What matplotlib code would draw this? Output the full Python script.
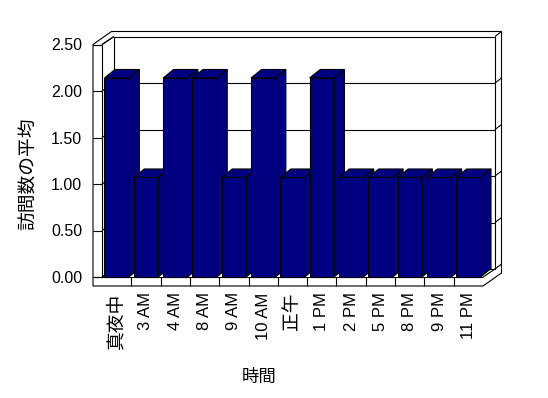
import matplotlib
matplotlib.use("Agg")
import matplotlib.pyplot as plt
from matplotlib.patches import Polygon

# data
hours = ["真夜中", "3 AM", "4 AM", "8 AM", "9 AM", "10 AM", "正午",
         "1 PM", "2 PM", "5 PM", "8 PM", "9 PM", "11 PM"]
avg_visits = [2.14, 1.07, 2.14, 2.14, 1.07, 2.14, 1.07,
              2.14, 1.07, 1.07, 1.07, 1.07, 1.07]
y_ticks = [0.0, 0.5, 1.0, 1.5, 2.0, 2.5]
y_tick_labels = ["0.00", "0.50", "1.00", "1.50", "2.00", "2.50"]

plt.rcParams["font.family"] = ["Liberation Sans", "Noto Sans CJK JP"]

W, H = 548, 398
fig = plt.figure(figsize=(W / 100, H / 100), dpi=100)
ax = fig.add_axes([102 / W, 1 - 277 / H, 381 / W, 232.5 / H])
ax.set_xlim(-0.5, len(hours) - 0.5)
ax.set_ylim(0, 2.5)
for s in ax.spines.values():
    s.set_visible(False)
ax.patch.set_visible(False)

# pseudo-3D offsets in pixels (right, up)
DEPTH = (12, 8)        # front plane -> back wall
THICK = (6.5, 5)       # back wall thickness
WALL = 9               # left wall width / floor height
BAR_DEPTH = (10.5, 8.5)
BAR_W = 0.83
NAVY = "#000080"
LW = 0.8


def shift(x, y, dx=0, dy=0):
    px = ax.transData.transform((x, y))
    return tuple(ax.transData.inverted().transform((px[0] + dx, px[1] + dy)))


def poly(pts, fc, z):
    ax.add_patch(Polygon(pts, closed=True, facecolor=fc, edgecolor="black",
                         lw=LW, zorder=z, clip_on=False, joinstyle="miter"))


def seg(p, q, z=2):
    ax.plot([p[0], q[0]], [p[1], q[1]], color="black", lw=LW, zorder=z,
            clip_on=False, solid_capstyle="butt")


x0, x1 = ax.get_xlim()
y0, y1 = ax.get_ylim()
DX, DY = DEPTH[0] + THICK[0], DEPTH[1] + THICK[1]

# outer box (walls + floor)
poly([shift(x0, y1, -WALL, 0), shift(x0, y0, -WALL, -WALL),
      shift(x1, y0, 0, -WALL), shift(x1, y0, DX, DY - WALL),
      shift(x1, y1, DX, DY), shift(x0, y1, DX - WALL, DY)], "white", 1)

# left wall front face and floor front face
seg(shift(x0, y1, -WALL, 0), (x0, y1))
seg((x0, y1), (x0, y0))
seg(shift(x0, y0, -WALL, 0), (x1, y0))
for k in range(1, len(hours)):
    seg((k - 0.5, y0), shift(k - 0.5, y0, 0, -WALL))

# back wall face
back = [shift(x0, y0, *DEPTH), shift(x1, y0, *DEPTH),
        shift(x1, y1, *DEPTH), shift(x0, y1, *DEPTH)]
poly(back, "none", 2)
seg((x0, y1), shift(x0, y1, *DEPTH))
seg((x0, y0), shift(x0, y0, *DEPTH))
seg((x1, y0), shift(x1, y0, *DEPTH))
seg(shift(x1, y1, *DEPTH), shift(x1, y1, DX, DY))

# gridlines and ticks
for yv in y_ticks:
    seg(shift(x0, yv, -WALL, 0), (x0, yv))
    seg((x0, yv), shift(x0, yv, *DEPTH))
    if yv < y1:
        seg(shift(x1, yv, *DEPTH), shift(x1, yv, DX, DY))
    if y0 < yv < y1:
        seg(shift(x0, yv, *DEPTH), shift(x1, yv, *DEPTH))

# bars
for i, v in enumerate(avg_visits):
    l, r = i - BAR_W / 2, i + BAR_W / 2
    z = 3 + i * 0.01
    poly([(r, 0), shift(r, 0, *BAR_DEPTH), shift(r, v, *BAR_DEPTH), (r, v)], NAVY, z)
    poly([(l, v), (r, v), shift(r, v, *BAR_DEPTH), shift(l, v, *BAR_DEPTH)], NAVY, z)
    poly([(l, 0), (r, 0), (r, v), (l, v)], NAVY, z)

ax.set_yticks(y_ticks, y_tick_labels, fontsize=11.5)
ax.set_xticks(range(len(hours)), hours, rotation=90, fontsize=12)
for lab in ax.get_xticklabels():
    if not lab.get_text().isascii():
        lab.set_fontsize(13.5)
ax.tick_params(axis="both", length=0)
ax.tick_params(axis="y", pad=14.4)
ax.tick_params(axis="x", pad=11)

fig.text(30 / W, 1 - 174 / H, "訪問数の平均", rotation=90, ha="center",
         va="center", fontsize=13.5)
fig.text(259 / W, 1 - 377 / H, "時間", ha="center", va="center", fontsize=12.5)

fig.savefig("out.png", dpi=100)
